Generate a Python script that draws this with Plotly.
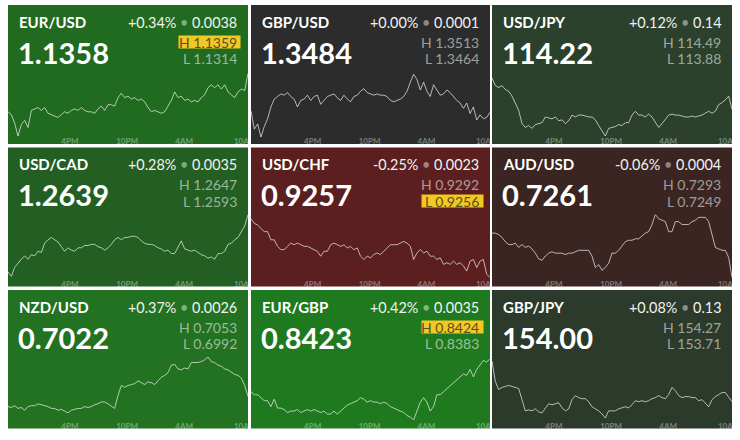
import plotly.graph_objects as go
import pandas as pd

W, H = 740, 440

# ---------------- data ----------------
pairs = ["EUR/USD", "GBP/USD", "USD/JPY",
         "USD/CAD", "USD/CHF", "AUD/USD",
         "NZD/USD", "EUR/GBP", "GBP/JPY"]
last_price = ["1.1358", "1.3484", "114.22",
              "1.2639", "0.9257", "0.7261",
              "0.7022", "0.8423", "154.00"]
change_pct = ["+0.34%", "+0.00%", "+0.12%",
              "+0.28%", "-0.25%", "-0.06%",
              "+0.37%", "+0.42%", "+0.08%"]
change_abs = ["0.0038", "0.0001", "0.14",
              "0.0035", "0.0023", "0.0004",
              "0.0026", "0.0035", "0.13"]
high_txt = ["1.1359", "1.3513", "114.49",
            "1.2647", "0.9292", "0.7293",
            "0.7053", "0.8424", "154.27"]
low_txt = ["1.1314", "1.3464", "113.88",
           "1.2593", "0.9256", "0.7249",
           "0.6992", "0.8383", "153.71"]
highlight = ["H", "", "", "", "L", "", "", "H", ""]
tile_colors = ["#216b21", "#2c2c2c", "#2b412b",
               "#235f23", "#5b1f1f", "#3a2522",
               "#227222", "#1f7a1f", "#2b3a2b"]

tick_labels = ["4PM", "10PM", "4AM", "10A"]

eur_usd = [1.1331, 1.1329, 1.1323, 1.1314, 1.1322, 1.1325, 1.1320, 1.1332, 1.1333, 1.1334,
           1.1332, 1.1334, 1.1330, 1.1329, 1.1328, 1.1327, 1.1329, 1.1331, 1.1330, 1.1332,
           1.1333, 1.1332, 1.1334, 1.1332, 1.1331, 1.1331, 1.1330, 1.1333, 1.1335, 1.1332,
           1.1336, 1.1336, 1.1335, 1.1341, 1.1344, 1.1341, 1.1342, 1.1340, 1.1341, 1.1339,
           1.1340, 1.1338, 1.1334, 1.1331, 1.1332, 1.1331, 1.1330, 1.1331, 1.1335, 1.1339,
           1.1345, 1.1341, 1.1342, 1.1339, 1.1340, 1.1338, 1.1339, 1.1338, 1.1341, 1.1343,
           1.1348, 1.1350, 1.1348, 1.1350, 1.1347, 1.1350, 1.1345, 1.1343, 1.1341, 1.1345,
           1.1347, 1.1346, 1.1358]

gbp_usd = [1.3484, 1.3470, 1.3474, 1.3464, 1.3472, 1.3478, 1.3487, 1.3493, 1.3495, 1.3497,
           1.3496, 1.3498, 1.3495, 1.3493, 1.3487, 1.3492, 1.3493, 1.3496, 1.3492, 1.3495,
           1.3496, 1.3489, 1.3492, 1.3495, 1.3496, 1.3497, 1.3494, 1.3492, 1.3496, 1.3493,
           1.3491, 1.3495, 1.3496, 1.3499, 1.3501, 1.3498, 1.3497, 1.3496, 1.3497, 1.3496,
           1.3496, 1.3495, 1.3492, 1.3491, 1.3492, 1.3493, 1.3495, 1.3499, 1.3506, 1.3512,
           1.3508, 1.3500, 1.3506, 1.3499, 1.3495, 1.3504, 1.3500, 1.3496, 1.3497, 1.3500,
           1.3498, 1.3495, 1.3492, 1.3490, 1.3486, 1.3490, 1.3482, 1.3487, 1.3477, 1.3481,
           1.3478, 1.3479, 1.3483]

usd_jpy = [114.49, 114.41, 114.39, 114.41, 114.37, 114.35, 114.30, 114.22, 114.15, 114.01,
           113.97, 113.99, 113.96, 114.00, 114.01, 114.02, 114.08, 114.07, 114.06, 114.08,
           114.04, 114.05, 114.01, 114.04, 114.10, 114.08, 114.10, 114.10, 114.09, 114.08,
           114.08, 114.05, 113.99, 113.94, 113.88, 113.96, 113.97, 113.98, 114.00, 113.99,
           114.02, 114.02, 114.10, 114.14, 114.10, 114.10, 114.08, 114.11, 114.08, 114.02,
           113.97, 114.01, 114.06, 114.10, 114.11, 114.10, 114.10, 114.09, 114.08, 114.08,
           114.09, 114.08, 114.09, 114.10, 114.12, 114.14, 114.12, 114.14, 114.21, 114.23,
           114.26, 114.30, 114.16]

usd_cad = [1.2597, 1.2593, 1.2601, 1.2605, 1.2608, 1.2611, 1.2608, 1.2612, 1.2611, 1.2615,
           1.2614, 1.2622, 1.2625, 1.2627, 1.2625, 1.2623, 1.2619, 1.2615, 1.2618, 1.2616,
           1.2615, 1.2618, 1.2618, 1.2620, 1.2620, 1.2621, 1.2621, 1.2619, 1.2618, 1.2616,
           1.2618, 1.2621, 1.2625, 1.2627, 1.2625, 1.2627, 1.2627, 1.2628, 1.2628, 1.2627,
           1.2624, 1.2622, 1.2621, 1.2621, 1.2620, 1.2618, 1.2617, 1.2615, 1.2616, 1.2613,
           1.2613, 1.2618, 1.2624, 1.2617, 1.2616, 1.2615, 1.2616, 1.2614, 1.2612, 1.2611,
           1.2609, 1.2610, 1.2608, 1.2613, 1.2613, 1.2615, 1.2621, 1.2622, 1.2625, 1.2627,
           1.2632, 1.2637, 1.2647]

usd_chf = [0.9292, 0.9289, 0.9288, 0.9286, 0.9284, 0.9284, 0.9279, 0.9279, 0.9275, 0.9273,
           0.9273, 0.9275, 0.9277, 0.9276, 0.9277, 0.9276, 0.9275, 0.9275, 0.9274, 0.9273,
           0.9272, 0.9269, 0.9272, 0.9272, 0.9276, 0.9277, 0.9276, 0.9275, 0.9276, 0.9274,
           0.9275, 0.9273, 0.9274, 0.9269, 0.9267, 0.9269, 0.9268, 0.9270, 0.9271, 0.9270,
           0.9272, 0.9274, 0.9276, 0.9276, 0.9276, 0.9277, 0.9278, 0.9277, 0.9275, 0.9267,
           0.9271, 0.9273, 0.9271, 0.9272, 0.9269, 0.9269, 0.9267, 0.9268, 0.9264, 0.9265,
           0.9264, 0.9266, 0.9264, 0.9265, 0.9263, 0.9260, 0.9266, 0.9267, 0.9262, 0.9266,
           0.9267, 0.9258, 0.9256]

aud_usd = [0.7280, 0.7280, 0.7279, 0.7277, 0.7274, 0.7272, 0.7272, 0.7273, 0.7270, 0.7272,
           0.7270, 0.7271, 0.7269, 0.7266, 0.7262, 0.7261, 0.7264, 0.7266, 0.7267, 0.7266,
           0.7266, 0.7266, 0.7265, 0.7266, 0.7266, 0.7267, 0.7268, 0.7268, 0.7268, 0.7268,
           0.7264, 0.7256, 0.7258, 0.7254, 0.7256, 0.7259, 0.7266, 0.7266, 0.7268, 0.7271,
           0.7274, 0.7275, 0.7275, 0.7276, 0.7276, 0.7278, 0.7280, 0.7281, 0.7286, 0.7293,
           0.7290, 0.7289, 0.7288, 0.7281, 0.7281, 0.7288, 0.7288, 0.7286, 0.7286, 0.7286,
           0.7288, 0.7289, 0.7291, 0.7291, 0.7291, 0.7288, 0.7279, 0.7270, 0.7269, 0.7268,
           0.7268, 0.7263, 0.7249]

nzd_usd = [0.6999, 0.6998, 0.7000, 0.6997, 0.6998, 0.6995, 0.6999, 0.7000, 0.7000, 0.7002,
           0.7001, 0.7000, 0.6999, 0.6997, 0.6997, 0.6995, 0.6996, 0.6994, 0.6992, 0.6995,
           0.6996, 0.6997, 0.6997, 0.6999, 0.6998, 0.6999, 0.7001, 0.7002, 0.7004, 0.7004,
           0.7002, 0.6999, 0.6997, 0.7011, 0.7022, 0.7020, 0.7022, 0.7023, 0.7024, 0.7027,
           0.7025, 0.7023, 0.7026, 0.7025, 0.7023, 0.7027, 0.7031, 0.7033, 0.7036, 0.7044,
           0.7045, 0.7040, 0.7039, 0.7041, 0.7040, 0.7047, 0.7047, 0.7047, 0.7048, 0.7050,
           0.7053, 0.7048, 0.7047, 0.7044, 0.7043, 0.7040, 0.7039, 0.7036, 0.7034, 0.7033,
           0.7030, 0.7022, 0.7010]

eur_gbp = [0.8402, 0.8400, 0.8400, 0.8398, 0.8396, 0.8396, 0.8392, 0.8397, 0.8391, 0.8391,
           0.8390, 0.8388, 0.8389, 0.8389, 0.8390, 0.8388, 0.8389, 0.8390, 0.8389, 0.8390,
           0.8389, 0.8388, 0.8389, 0.8387, 0.8387, 0.8389, 0.8387, 0.8389, 0.8391, 0.8393,
           0.8394, 0.8395, 0.8396, 0.8398, 0.8397, 0.8395, 0.8396, 0.8395, 0.8395, 0.8394,
           0.8395, 0.8394, 0.8392, 0.8391, 0.8390, 0.8389, 0.8388, 0.8386, 0.8385, 0.8383,
           0.8389, 0.8395, 0.8398, 0.8395, 0.8389, 0.8392, 0.8400, 0.8400, 0.8402, 0.8404,
           0.8406, 0.8408, 0.8410, 0.8412, 0.8414, 0.8413, 0.8417, 0.8412, 0.8417, 0.8420,
           0.8423, 0.8422, 0.8424]

gbp_jpy = [154.27, 154.07, 153.99, 154.01, 154.02, 154.03, 154.02, 154.01, 154.00, 153.89,
           153.78, 153.79, 153.78, 153.80, 153.77, 153.76, 153.81, 153.85, 153.84, 153.85,
           153.86, 153.81, 153.78, 153.80, 153.89, 153.93, 153.91, 153.90, 153.90, 153.87,
           153.82, 153.80, 153.78, 153.75, 153.71, 153.78, 153.78, 153.78, 153.80, 153.81,
           153.82, 153.81, 153.84, 153.88, 153.87, 153.88, 153.87, 153.88, 153.90, 153.91,
           153.93, 153.91, 153.90, 153.94, 154.01, 153.98, 153.93, 153.91, 153.92, 153.92,
           153.91, 153.91, 153.88, 153.89, 153.86, 153.82, 153.89, 153.92, 153.94, 153.96,
           153.96, 153.91, 153.87]

series = [eur_usd, gbp_usd, usd_jpy, usd_cad, usd_chf, aud_usd, nzd_usd, eur_gbp, gbp_jpy]
times = pd.date_range("2021-11-29 09:30", periods=73, freq="21min")
tick_times = pd.to_datetime(["2021-11-29 16:00", "2021-11-29 22:00",
                             "2021-11-30 04:00", "2021-11-30 10:00"])

# ---------------- layout geometry (pixels) ----------------
col_x = [8, 251, 492]
col_w = [240, 239, 240]
row_y = [5, 147.5, 290]
row_h = [139, 139, 138.5]
# sparkline vertical extent inside each tile (top, bottom) in px from tile top
spark_tb = [(67, 131), (68, 132), (73, 131),
            (67, 129), (71, 130), (67, 130),
            (67, 123), (69, 130), (71, 128)]

FONT = "Lato"
fx = lambda px: px / W
fy = lambda py: 1 - py / H

fig = go.Figure()
shapes = []
annotations = []
layout_axes = {}

for i in range(9):
    r, c = divmod(i, 3)
    x0, w = col_x[c], col_w[c]
    y0, h = row_y[r], row_h[r]
    x1 = x0 + w
    sfx = "" if i == 0 else str(i + 1)

    shapes.append(dict(type="rect", xref="paper", yref="paper", layer="below",
                       x0=fx(x0), x1=fx(x1), y0=fy(y0 + h), y1=fy(y0),
                       fillcolor=tile_colors[i], line=dict(width=0)))

    lo, hi = float(low_txt[i]), float(high_txt[i])
    top, bot = spark_tb[i]
    fig.add_trace(go.Scatter(x=times, y=series[i], mode="lines",
                             line=dict(color="rgba(235,235,235,0.72)", width=1),
                             hoverinfo="skip", showlegend=False,
                             xaxis="x" + sfx, yaxis="y" + sfx))
    layout_axes["xaxis" + sfx] = dict(
        domain=[fx(x0), fx(x1)], range=[times[0], times[-1]],
        anchor="free", position=fy(y0 + 130),
        showgrid=False, zeroline=False, showline=False, ticks="",
        tickvals=tick_times, ticktext=tick_labels,
        tickfont=dict(family=FONT, size=8, color="rgba(255,255,255,0.38)", weight=700),
        fixedrange=True)
    layout_axes["yaxis" + sfx] = dict(
        domain=[fy(y0 + bot), fy(y0 + top)], range=[lo, hi],
        anchor="x" + sfx, visible=False, fixedrange=True)

    # texts
    annotations.append(dict(xref="paper", yref="paper", x=fx(x0 + 9), y=fy(y0 + 17),
                            xanchor="left", yanchor="middle", showarrow=False,
                            text=pairs[i],
                            font=dict(family=FONT, size=15, color="white", weight=700)))
    annotations.append(dict(xref="paper", yref="paper", x=fx(x0 + 8), y=fy(y0 + 47.5),
                            xanchor="left", yanchor="middle", showarrow=False,
                            text=last_price[i],
                            font=dict(family=FONT, size=29, color="white", weight=700)))
    annotations.append(dict(xref="paper", yref="paper", x=fx(x1 - 9), y=fy(y0 + 17),
                            xanchor="right", yanchor="middle", showarrow=False,
                            text=change_pct[i] + " <span style='color:rgba(255,255,255,0.45)'>•</span> " + change_abs[i],
                            font=dict(family=FONT, size=14.4, color="#f2f2f2")))
    for lab, txt, cy in (("H", high_txt[i], 37), ("L", low_txt[i], 53.5)):
        hl = highlight[i] == lab
        if hl:
            shapes.append(dict(type="rect", xref="paper", yref="paper", layer="below",
                               x0=fx(x0 + 170.5), x1=fx(x0 + 232.5),
                               y0=fy(y0 + cy + 6.5), y1=fy(y0 + cy - 6.5),
                               fillcolor="#f3c824", line=dict(width=0)))
        annotations.append(dict(xref="paper", yref="paper", x=fx(x1 - 9), y=fy(y0 + cy),
                                xanchor="right", yanchor="middle", showarrow=False,
                                text=lab + " " + txt,
                                font=dict(family=FONT, size=14,
                                          color="#5a4f1e" if hl else "rgba(255,255,255,0.55)")))

fig.update_layout(width=W, height=H, margin=dict(l=0, r=0, t=0, b=0),
                  paper_bgcolor="white", plot_bgcolor="rgba(0,0,0,0)",
                  shapes=shapes, annotations=annotations, showlegend=False,
                  **layout_axes)
fig.write_html("out.html", config={"displayModeBar": False},
               post_script="document.body.style.margin='0';document.body.style.padding='0';")
